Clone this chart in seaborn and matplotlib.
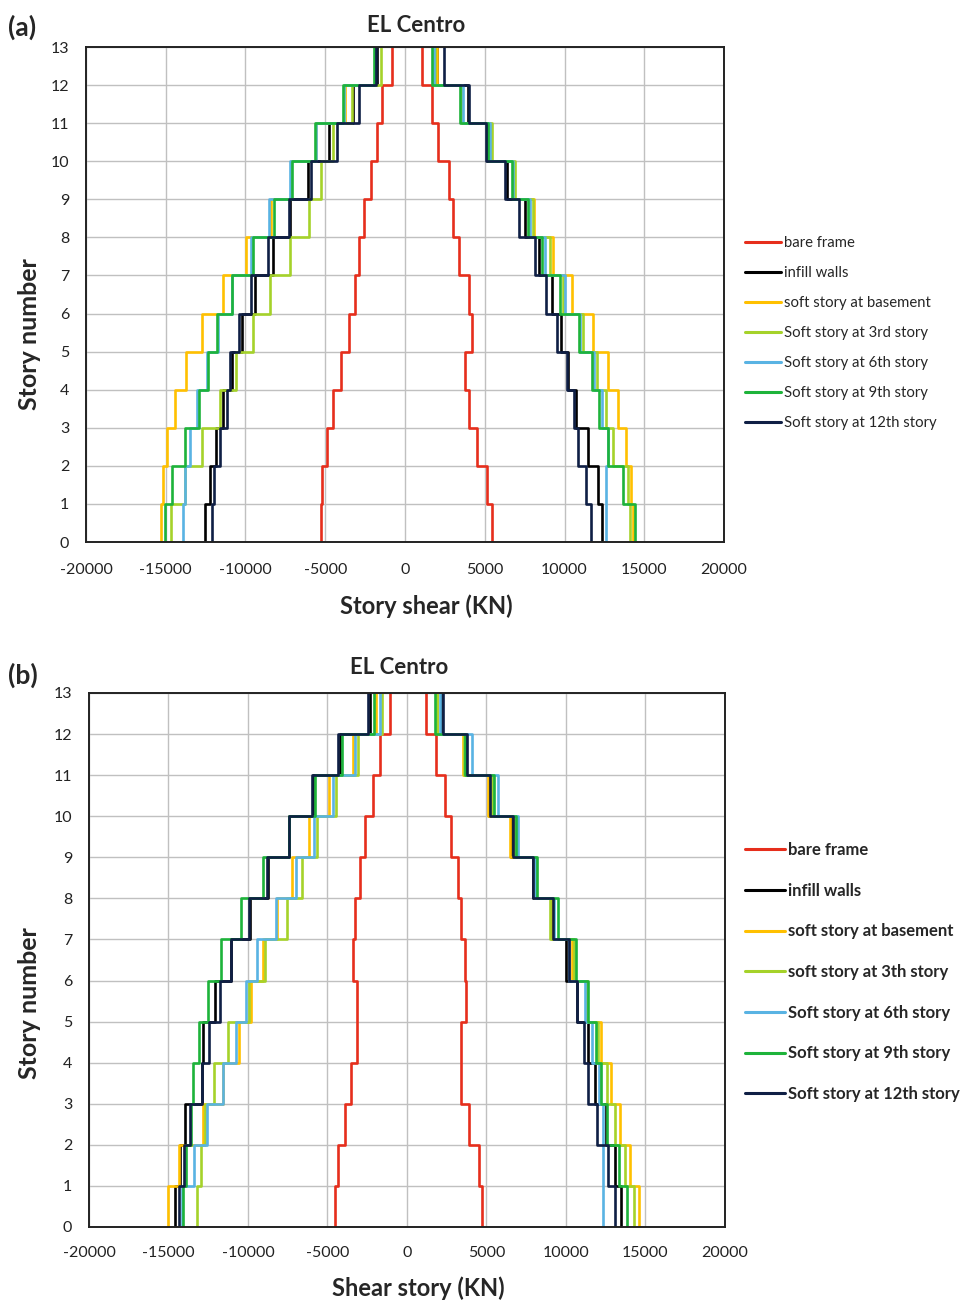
import numpy as np
import pandas as pd
import matplotlib
matplotlib.use("Agg")
import matplotlib.pyplot as plt
import seaborn as sns
from matplotlib.lines import Line2D

# ---------------- data ----------------
stories = list(range(14))
series_a = ["bare frame", "infill walls", "soft story at basement", "Soft story at 3rd story",
            "Soft story at 6th story", "Soft story at 9th story", "Soft story at 12th story"]
series_b = ["bare frame", "infill walls", "soft story at basement", "soft story at 3th story",
            "Soft story at 6th story", "Soft story at 9th story", "Soft story at 12th story"]
colors = ["#e62e1c", "#000000", "#ffc000", "#a5d22a", "#59b3e3", "#1db33a", "#0f1f45"]

# panel (a): story shear per story interval (0-1 ... 12-13)
a_bare_neg = [-5290, -5230, -4910, -4490, -4010, -3490, -3110, -2900, -2550, -2130, -1780, -1420, -800]
a_infill_neg = [-12560, -12230, -11850, -11390, -10830, -10240, -9400, -8300, -7230, -6060, -4770, -3240, -1750]
a_base_neg = [-15320, -15150, -14900, -14420, -13730, -12710, -11430, -9990, -8420, -7150, -5580, -3760, -1850]
a_3rd_neg = [-14670, -13770, -12710, -11600, -10620, -9510, -8460, -7210, -6000, -5290, -4500, -3300, -1500]
a_6th_neg = [-13900, -13790, -13480, -13020, -12440, -11700, -10850, -9680, -8510, -7210, -5600, -3850, -1850]
a_9th_neg = [-15050, -14610, -13770, -12900, -12330, -11810, -10850, -9550, -8190, -7090, -5620, -3870, -1950]
a_12th_neg = [-12100, -11950, -11600, -11180, -10970, -10390, -9660, -8570, -7290, -5910, -4280, -2860, -1800]

a_bare_pos = [5430, 5160, 4490, 4010, 3760, 4220, 4010, 3400, 3030, 2780, 2050, 1670, 1065]
a_infill_pos = [12360, 12110, 11480, 10690, 10230, 9750, 9190, 8410, 7520, 6400, 5150, 3920, 2000]
a_base_pos = [14300, 14200, 13880, 13360, 12730, 11800, 10500, 9250, 8100, 6800, 5300, 3590, 2000]
a_3rd_pos = [14130, 13950, 13050, 12630, 12050, 11130, 9920, 9080, 8000, 6890, 5470, 3550, 1900]
a_6th_pos = [12590, 12630, 12730, 12360, 11850, 11000, 10060, 8770, 7850, 6800, 5300, 3650, 1840]
a_9th_pos = [14430, 13670, 12730, 12170, 11730, 10920, 9710, 8620, 7720, 6720, 5180, 3470, 1710]
a_12th_pos = [11650, 11320, 10860, 10580, 10130, 9540, 8870, 8140, 7120, 6280, 5070, 4030, 2440]

# panel (b)
b_bare_neg = [-4520, -4330, -3920, -3540, -3130, -3130, -3420, -3270, -2960, -2650, -2150, -1710, -1080]
b_infill_neg = [-14580, -14270, -13960, -12900, -12810, -12080, -11040, -9900, -8750, -7440, -5940, -4200, -2300]
b_base_neg = [-15040, -14310, -12850, -11600, -10560, -9790, -9060, -8150, -7250, -6150, -4900, -3400, -1950]
b_3rd_neg = [-13230, -12980, -12700, -12150, -11250, -9950, -8960, -7540, -6630, -5630, -4480, -3060, -1550]
b_6th_neg = [-14170, -13400, -12560, -11600, -10730, -10150, -9440, -8230, -6980, -5880, -4650, -3250, -1700]
b_9th_neg = [-14060, -13900, -13600, -13480, -13060, -12500, -11670, -10460, -9060, -7400, -5790, -4060, -2050]
b_12th_neg = [-14310, -14000, -13650, -12920, -12440, -11770, -11040, -9960, -8810, -7440, -6000, -4330, -2480]

b_bare_pos = [4700, 4550, 3920, 3400, 3400, 3720, 3650, 3400, 3190, 2780, 2400, 1800, 1170]
b_infill_pos = [13490, 13110, 12530, 11820, 11400, 10670, 9980, 9100, 7950, 6550, 5150, 3720, 2150]
b_base_pos = [14570, 14010, 13420, 12860, 12210, 11300, 10350, 9150, 8000, 6490, 5070, 3510, 1900]
b_3rd_pos = [14260, 13740, 13070, 12590, 12000, 11300, 10500, 8980, 8100, 6750, 5350, 3600, 1880]
b_6th_pos = [12340, 12320, 12320, 12100, 11650, 11200, 10190, 9250, 8060, 6950, 5720, 4090, 2050]
b_9th_pos = [13840, 13320, 12590, 12170, 11860, 11400, 10610, 9520, 8200, 6850, 5450, 3650, 1770]
b_12th_pos = [13070, 12630, 11980, 11400, 11130, 10670, 10190, 9190, 7930, 6640, 5220, 3760, 2250]

x_ticks = [-20000, -15000, -10000, -5000, 0, 5000, 10000, 15000, 20000]

A_neg = [a_bare_neg, a_infill_neg, a_base_neg, a_3rd_neg, a_6th_neg, a_9th_neg, a_12th_neg]
A_pos = [a_bare_pos, a_infill_pos, a_base_pos, a_3rd_pos, a_6th_pos, a_9th_pos, a_12th_pos]
B_neg = [b_bare_neg, b_infill_neg, b_base_neg, b_3rd_neg, b_6th_neg, b_9th_neg, b_12th_neg]
B_pos = [b_bare_pos, b_infill_pos, b_base_pos, b_3rd_pos, b_6th_pos, b_9th_pos, b_12th_pos]


def step_frame(names, negs, poss):
    rows = []
    for name, neg, pos in zip(names, negs, poss):
        for side, vals in (("neg", neg), ("pos", pos)):
            for i, v in enumerate(vals):
                rows.append(dict(series=name, side=side, shear=v, story=stories[i]))
                rows.append(dict(series=name, side=side, shear=v, story=stories[i + 1]))
    return pd.DataFrame(rows)


sns.set_theme(style="white")
FONT = ["Lato", "DejaVu Sans"]
plt.rcParams["font.family"] = FONT

fig = plt.figure(figsize=(9.62, 13.03), dpi=100)

panels = [
    dict(names=series_a, negs=A_neg, poss=A_pos, rect=[86/962, 1-542/1303, 638/962, 495/1303],
         tag="(a)", tag_y=1-27/1303, title_x=416/962, title_y=1-25/1303,
         xlabel="Story shear (KN)", xlabel_x=426/962, xlabel_y=1-606/1303,
         legend_top=1-236/1303, spacing=1.08, lfs=10.7, bold=False, xpad=15),
    dict(names=series_b, negs=B_neg, poss=B_pos, rect=[89/962, 1-1227/1303, 636/962, 534/1303],
         tag="(b)", tag_y=1-675/1303, title_x=399/962, title_y=1-667/1303,
         xlabel="Shear story (KN)", xlabel_x=418/962, xlabel_y=1-1288/1303,
         legend_top=1-842/1303, spacing=1.48, lfs=12, bold=True, xpad=14),
]

for p in panels:
    ax = fig.add_axes(p["rect"])
    df = step_frame(p["names"], p["negs"], p["poss"])
    sns.lineplot(data=df, x="shear", y="story", hue="series", hue_order=p["names"],
                 palette=colors, units="side", estimator=None, sort=False,
                 linewidth=1.9, legend=False, ax=ax)
    ax.set_xlim(-20000, 20000)
    ax.set_ylim(0, 13)
    ax.set_xticks(x_ticks)
    ax.set_xticklabels([str(t) for t in x_ticks])
    ax.set_yticks(range(14))
    ax.grid(True, color="#c0c0c0", linewidth=1.0)
    ax.set_axisbelow(True)
    for s in ax.spines.values():
        s.set_color("#222222")
        s.set_linewidth(1.4)
    ax.tick_params(axis="x", length=0, pad=p["xpad"], labelsize=11.5, colors="#222222")
    ax.tick_params(axis="y", length=0, pad=12, labelsize=11.5, colors="#222222")
    ax.set_xlabel("")
    ax.set_ylabel("")
    fig.text(30/962, p["rect"][1] + p["rect"][3]*0.42, "Story number", rotation=90, ha="center", va="center",
             fontsize=18, fontweight="bold")
    fig.text(p["xlabel_x"], p["xlabel_y"], p["xlabel"], ha="center", va="center",
             fontsize=17, fontweight="bold")
    fig.text(p["title_x"], p["title_y"], "EL Centro", ha="center", va="center",
             fontsize=16, fontweight="bold")
    fig.text(0.008, p["tag_y"], p["tag"], ha="left", va="center", fontsize=19, fontweight="bold")

    handles = [Line2D([0], [0], color=c, lw=2.2) for c in colors]
    ax.legend(handles, p["names"], loc="upper left", bbox_to_anchor=(745/962, p["legend_top"]),
              bbox_transform=fig.transFigure, frameon=False, borderpad=0, borderaxespad=0,
              handlelength=2.4, handletextpad=0.2, labelspacing=p["spacing"],
              prop=dict(family=FONT, size=p["lfs"], weight="bold" if p["bold"] else "normal"))

fig.savefig("out.png", dpi=100)
